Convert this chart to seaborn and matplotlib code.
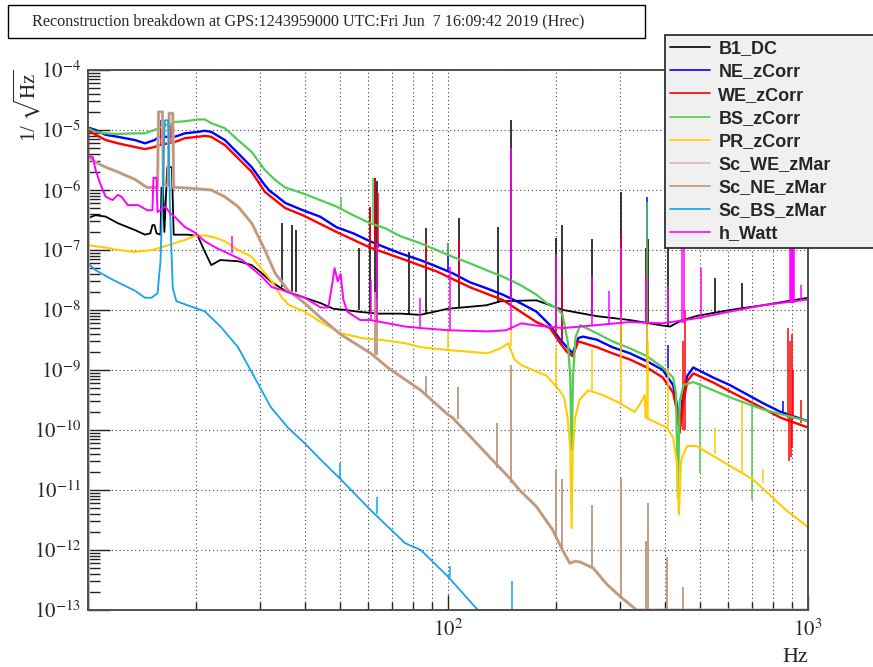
import numpy as np
import matplotlib
matplotlib.use("Agg")
import matplotlib.pyplot as plt
import seaborn as sns
from matplotlib.lines import Line2D
from matplotlib.patches import Rectangle
from matplotlib.ticker import FixedLocator, FixedFormatter, NullFormatter

# ---------------- data ----------------
TITLE = "Reconstruction breakdown at GPS:1243959000 UTC:Fri Jun  7 16:09:42 2019 (Hrec)"
SERIES = ["B1_DC", "NE_zCorr", "WE_zCorr", "BS_zCorr", "PR_zCorr",
          "Sc_WE_zMar", "Sc_NE_zMar", "Sc_BS_zMar", "h_Watt"]
X_TICKS = [100, 1000]
X_TICK_LABELS = [r"$10^{2}$", r"$10^{3}$"]
X_MINOR = [20, 30, 40, 50, 60, 70, 80, 90, 200, 300, 400, 500, 600, 700, 800, 900]
Y_TICKS = [1e-13, 1e-12, 1e-11, 1e-10, 1e-9, 1e-8, 1e-7, 1e-6, 1e-5, 1e-4]
Y_TICK_LABELS = [r"$10^{-13}$", r"$10^{-12}$", r"$10^{-11}$", r"$10^{-10}$", r"$10^{-9}$",
                 r"$10^{-8}$", r"$10^{-7}$", r"$10^{-6}$", r"$10^{-5}$", r"$10^{-4}$"]

# B1_DC (black)
B1_F = [10, 10.5, 11.2, 12.1, 13.5, 14.4, 14.9, 15.1, 15.3, 15.5, 15.9, 16.0, 16.15, 16.3, 16.6, 17.1,
        17.3, 17.8, 19.0, 20.2, 21.0, 22.0, 23.3, 26.1, 28.5, 30.4, 32.4, 35.3, 40.0, 44.3, 48.0, 52.0,
        56.0, 64.0, 73.7, 83.7, 100, 128, 140, 176, 209, 259, 320, 395, 414, 443, 492, 607, 750, 1000]
B1_V = [3.4e-7, 3.8e-7, 3.6e-7, 2.8e-7, 2.15e-7, 1.8e-7, 1.9e-7, 2.6e-7, 2.6e-7, 1.9e-7, 1.8e-7, 1.1e-6,
        1.1e-6, 2e-7, 2.4e-6, 2.4e-6, 1.8e-7, 1.8e-7, 1.8e-7, 1.7e-7, 1e-7, 5.6e-8, 6.8e-8, 6.5e-8,
        5.6e-8, 4.1e-8, 2.9e-8, 2.1e-8, 1.6e-8, 1.3e-8, 1.05e-8, 1e-8, 9.4e-9, 8.7e-9, 8.7e-9, 8.3e-9,
        1.05e-8, 1.2e-8, 1.4e-8, 1.45e-8, 1e-8, 7.9e-9, 6.8e-9, 5.5e-9, 5.3e-9, 6.6e-9, 8e-9, 1e-8,
        1.2e-8, 1.6e-8]
B1_SPK_F = [34.6, 36.8, 37.8, 56.6, 60.8, 62.5, 63.5, 78, 87, 107.5, 138, 150, 200, 207, 251, 302,
            355, 359, 408, 550, 657]
B1_SPK_LO = [2.4e-8, 2e-8, 2e-8, 1e-8, 9e-9, 9e-9, 9e-9, 8.7e-9, 8.5e-9, 1.1e-8, 1.3e-8, 1.4e-8,
             1.1e-8, 1e-8, 8e-9, 7e-9, 6e-9, 6e-9, 5.5e-9, 9e-9, 1.05e-8]
B1_SPK_HI = [2.8e-7, 2.6e-7, 2.15e-7, 1.1e-7, 5.3e-7, 1.6e-6, 1.4e-6, 9.3e-8, 2.3e-7, 3.4e-7, 2.4e-7,
             1.47e-5, 1.6e-7, 2.6e-7, 1.5e-7, 9.3e-7, 1.1e-7, 1.5e-7, 1e-6, 3.4e-8, 2.8e-8]

# NE_zCorr (blue)
NE_F = [10, 10.5, 11.2, 12.1, 13.5, 14.4, 15.3, 15.8, 17.4, 18.6, 20.2, 21.1, 22.0, 24.0, 26.1, 28.5,
        31.0, 32.0, 33.1, 35.3, 39.5, 44.1, 49, 54.5, 60.7, 67, 73.7, 83.7, 93, 103, 115, 128, 142,
        159, 176, 192, 205, 214, 222, 230, 237, 259, 286, 320, 357, 395, 422, 433, 440, 448, 462, 480,
        545, 607, 750, 840, 1000]
NE_V = [1.1e-5, 1e-5, 8.3e-6, 7.7e-6, 6.8e-6, 6e-6, 6.8e-6, 7.7e-6, 7.7e-6, 8.8e-6, 9.3e-6, 9.7e-6,
        9.3e-6, 6.8e-6, 4.1e-6, 2.4e-6, 1.2e-6, 9.6e-7, 8.3e-7, 6.1e-7, 4.6e-7, 3.6e-7, 2.4e-7, 1.9e-7,
        1.4e-7, 1.1e-7, 8.8e-8, 6.8e-8, 5.3e-8, 4.1e-8, 2.9e-8, 2.3e-8, 1.8e-8, 1.3e-8, 9.4e-9, 5.6e-9,
        3.2e-9, 2.4e-9, 1.9e-9, 3.4e-9, 3.6e-9, 3.2e-9, 2.4e-9, 1.9e-9, 1.4e-9, 1e-9, 5.6e-10, 2.5e-10,
        1e-10, 3.2e-10, 8e-10, 1.1e-9, 7.5e-10, 5.6e-10, 2.8e-10, 2e-10, 1.4e-10]
NE_SPK_F = [16.0, 17.0, 62.5, 100, 107.5, 150, 207, 302, 357, 408, 850]
NE_SPK_LO = [7.5e-6, 7.5e-6, 1.5e-7, 4.5e-8, 3.8e-8, 1.6e-8, 3e-9, 2e-9, 1.4e-9, 1e-9, 2e-10]
NE_SPK_HI = [1.47e-5, 1.3e-5, 1.3e-6, 1.3e-7, 1.5e-7, 1.1e-7, 3.6e-8, 1.9e-7, 7.7e-7, 2.6e-9, 3e-10]

# WE_zCorr (red)
WE_F = [10, 10.5, 11.2, 12.1, 13.5, 14.4, 15.3, 15.8, 17.4, 18.6, 20.2, 21.1, 22.0, 24.0, 26.1, 28.5,
        31.0, 33.1, 35.3, 39.5, 49, 60.7, 73.7, 93, 115, 142, 176, 192, 205, 214, 222, 230, 259, 286,
        320, 357, 395, 422, 433, 440, 448, 462, 480, 545, 607, 750, 840, 1000]
WE_V = [1e-5, 8.3e-6, 6.8e-6, 6e-6, 5.2e-6, 4.8e-6, 5.2e-6, 5.6e-6, 6.3e-6, 7.3e-6, 7.7e-6, 8e-6, 7.7e-6,
        5.6e-6, 3.4e-6, 2e-6, 9.3e-7, 6.8e-7, 5e-7, 3.8e-7, 2e-7, 1.1e-7, 7.3e-8, 4.4e-8, 2.4e-8,
        1.47e-8, 6.3e-9, 5e-9, 2.8e-9, 2e-9, 1.7e-9, 3e-9, 2.4e-9, 1.9e-9, 1.5e-9, 1.1e-9, 7.5e-10,
        4.2e-10, 2e-10, 9e-11, 2.4e-10, 6.5e-10, 8.8e-10, 6.2e-10, 4.4e-10, 2.3e-10, 1.6e-10, 1.1e-10]
WE_SPK_F = [16.0, 17.0, 60.8, 62.5, 63.8, 87, 107.5, 200, 207, 302, 357, 450, 455,
            880, 885, 890, 895, 900, 905, 910, 955]
WE_SPK_LO = [5.5e-6, 6e-6, 1.1e-7, 1.1e-7, 1.1e-7, 5e-8, 3e-8, 4e-9, 3e-9, 2e-9, 1.4e-9, 1e-10, 1e-10,
             1.6e-10, 3e-11, 1.5e-10, 3.5e-11, 1.5e-10, 5e-11, 1.5e-10, 1.3e-10]
WE_SPK_HI = [1.2e-5, 1.2e-5, 5.3e-7, 1.5e-6, 9e-7, 1.5e-7, 1.5e-7, 2.2e-8, 3.6e-8, 1.9e-7, 1.2e-7,
             3e-9, 1e-8, 5e-9, 1.6e-10, 3e-9, 1.5e-10, 4e-9, 1.5e-10, 1e-9, 3.2e-10]

# BS_zCorr (green)
BS_F = [10, 10.5, 11.2, 12.1, 13.5, 14.4, 15.3, 16.4, 17.4, 18.6, 20.2, 21.1, 22.0, 24.0, 26.1, 28.5,
        31.0, 33.1, 35.3, 39.5, 44.1, 49, 54.5, 60.7, 67, 73.7, 83.7, 93, 103, 115, 128, 142, 159, 176,
        188, 200, 208, 215, 218.5, 220.5, 222.5, 226, 233, 259, 286, 320, 357, 395, 422, 430, 435, 440,
        451, 480, 545, 607, 750, 1000]
BS_V = [1.07e-5, 9.3e-6, 8.8e-6, 8.6e-6, 8.8e-6, 8.8e-6, 1e-5, 1.2e-5, 1.36e-5, 1.4e-5, 1.5e-5, 1.5e-5,
        1.3e-5, 1.07e-5, 6.8e-6, 4.3e-6, 2.15e-6, 1.47e-6, 1.1e-6, 8.8e-7, 6.8e-7, 5.3e-7, 3.8e-7,
        2.8e-7, 2.3e-7, 1.7e-7, 1.3e-7, 1e-7, 7.7e-8, 6e-8, 4.6e-8, 3.6e-8, 2.6e-8, 1.8e-8, 1.3e-8,
        1.1e-8, 8.3e-9, 3e-9, 8e-10, 4.6e-11, 8e-10, 3.5e-9, 5.6e-9, 4.1e-9, 3e-9, 2.3e-9, 1.7e-9,
        1.1e-9, 7.5e-10, 4e-10, 7.5e-12, 3e-10, 5.6e-10, 6.3e-10, 4.6e-10, 3.5e-10, 2.2e-10, 1.4e-10]
BS_SPK_F = [50.5, 62, 100, 357, 500, 700]
BS_SPK_LO = [5e-7, 2.8e-7, 8e-8, 1.7e-9, 1.9e-11, 6.8e-12]
BS_SPK_HI = [7.7e-7, 1.6e-6, 1.3e-7, 6.3e-7, 6e-10, 2.8e-10]

# PR_zCorr (gold)
PR_F = [10, 11.2, 12.1, 13.5, 15.1, 16.7, 18.6, 19.7, 21.1, 22.6, 24.0, 26.1, 28.5, 30.2, 32.4, 34.6,
        36.2, 40, 44.3, 50.4, 57.6, 64.5, 76, 84, 100, 116, 129, 140, 147, 153, 160, 172, 188, 204,
        210, 215, 218.5, 220.5, 222, 225, 232, 245, 270, 300, 330, 340, 352, 354, 405, 422, 432, 438,
        444, 448, 462, 490, 568, 703, 870, 1000]
PR_V = [1.2e-7, 1.1e-7, 1e-7, 9.3e-8, 1e-7, 1.2e-7, 1.47e-7, 1.7e-7, 1.75e-7, 1.6e-7, 1.4e-7, 1e-7,
        7.7e-8, 5e-8, 3e-8, 1.6e-8, 1.2e-8, 9.4e-9, 6.3e-9, 4.1e-9, 3.4e-9, 3.2e-9, 2.8e-9, 2.4e-9,
        2.15e-9, 2e-9, 1.9e-9, 2.3e-9, 2.8e-9, 1.5e-9, 1.2e-9, 1e-9, 8e-10, 4.6e-10, 3.5e-10, 1.6e-10,
        5e-11, 2.3e-12, 4e-11, 1.5e-10, 3.2e-10, 4.6e-10, 3.8e-10, 2.8e-10, 2e-10, 2.6e-10, 3.8e-10,
        1.6e-10, 1.1e-10, 7.5e-11, 3e-11, 3.9e-12, 3e-11, 3.6e-11, 5.4e-11, 5.4e-11, 3.2e-11, 1.5e-11,
        4.6e-12, 2.4e-12]
PR_SPK_F = [100, 150, 200, 251, 302, 357, 360, 408, 550, 657, 750]
PR_SPK_LO = [2.15e-9, 2.5e-9, 5e-10, 4.6e-10, 2.8e-10, 1.6e-10, 1.6e-10, 1.1e-10, 4e-11, 2e-11, 1.3e-11]
PR_SPK_HI = [5e-9, 5.3e-9, 2.4e-9, 2.2e-9, 9e-9, 5.6e-9, 3e-9, 1.1e-9, 1.1e-10, 2.8e-10, 2.2e-11]

# Sc_WE_zMar / Sc_NE_zMar (tan, overlapping)
SCWE_F = [10, 10.5, 11.2, 12.1, 13.5, 14.6, 15.5, 15.6, 15.7, 16.1, 16.2, 16.7, 16.8, 17.2, 17.3, 17.8,
          19.3, 22, 24, 26.1, 28.5, 31, 33.1, 35.9, 40, 44.3, 50.4, 61, 68, 84, 100, 103, 128, 148,
          158, 176, 195, 208, 218, 225, 233, 253, 276, 300, 334, 400, 1000]
SCWE_V = [3.6e-6, 2.9e-6, 2.4e-6, 2e-6, 1.5e-6, 1.1e-6, 1.1e-6, 1.1e-6, 2e-5, 2e-5, 1.2e-6, 1.2e-6,
          1.9e-5, 1.9e-5, 1.1e-6, 1.1e-6, 1.07e-6, 1e-6, 7.7e-7, 5.3e-7, 2.8e-7, 1e-7, 4.1e-8, 2.15e-8,
          1.3e-8, 7.4e-9, 3.9e-9, 1.9e-9, 1.1e-9, 4.6e-10, 1.8e-10, 1.6e-10, 4e-11, 1.6e-11, 1e-11,
          5.3e-12, 2.2e-12, 1e-12, 6e-13, 6.5e-13, 6.3e-13, 5e-13, 2.7e-13, 1.7e-13, 1e-13, 3e-14, 1e-15]
SCNE_F = SCWE_F
SCNE_V = SCWE_V
SC_SPK_F = [62.5, 63.5, 87, 106.5, 137, 150, 200, 207, 251, 302, 354, 360, 405, 450]
SC_SPK_LO = [1.8e-9, 1.8e-9, 4e-10, 1.5e-10, 2.3e-11, 1.3e-11, 1.5e-12, 1e-12, 5e-13, 1.6e-13,
             1e-13, 1e-13, 1e-13, 1e-13]
SC_SPK_HI = [2e-8, 1.5e-8, 8e-10, 5.2e-10, 1.3e-10, 1.2e-9, 2.2e-11, 1.5e-11, 5.6e-12, 1.6e-11,
             1.4e-12, 6e-12, 7.5e-13, 2.4e-13]

# Sc_BS_zMar (sky blue)
SCBS_F = [10, 10.5, 11.7, 13.5, 14.4, 15.0, 15.6, 15.9, 16.1, 16.35, 16.7, 16.9, 17.2, 17.6, 18.9,
          21.1, 23.4, 26.1, 29.0, 32.2, 35.9, 40.0, 44.3, 50.4, 61, 76, 84, 100, 121, 150, 1000]
SCBS_V = [6e-8, 4.6e-8, 3.2e-8, 2.1e-8, 1.6e-8, 1.6e-8, 1.9e-8, 6.5e-8, 8e-7, 1.45e-5, 1.45e-5,
          4.5e-7, 2.3e-8, 1.4e-8, 1.2e-8, 9.5e-9, 5.2e-9, 2.4e-9, 7.6e-10, 2.4e-10, 1.1e-10, 6e-11,
          3.2e-11, 1.5e-11, 4.6e-12, 1.3e-12, 1e-12, 3.6e-13, 1e-13, 3e-14, 1e-15]
SCBS_SPK_F = [50, 63.5, 101, 151]
SCBS_SPK_LO = [1.5e-11, 4e-12, 3.5e-13, 1e-13]
SCBS_SPK_HI = [2.8e-11, 7.6e-12, 5.5e-13, 3e-13]

# h_Watt (magenta)
HW_F = [10, 10.3, 10.5, 10.8, 11.2, 11.7, 12.1, 12.4, 12.9, 13.8, 14.6, 15.1, 15.2, 15.5, 15.6, 16.4,
        16.9, 17.4, 18.6, 19.7, 21.1, 22.6, 24.0, 26.8, 28.5, 30.4, 32.4, 34.6, 36.6, 40, 44.3, 46.5,
        47.6, 48.4, 49.4, 50.3, 51.2, 52.5, 57, 61, 68, 76, 84, 100, 129, 145, 160, 176, 209, 259,
        320, 395, 492, 607, 750, 1000]
HW_V = [3.6e-6, 3.6e-6, 2.15e-6, 1.3e-6, 7.7e-7, 6.8e-7, 8.3e-7, 7.7e-7, 5.6e-7, 5.6e-7, 4.6e-7,
        4.6e-7, 1.6e-6, 1.6e-6, 4.3e-7, 5.3e-7, 4.1e-7, 3.6e-7, 2.4e-7, 2e-7, 1.4e-7, 1.1e-7, 9.3e-8,
        6.8e-8, 5e-8, 3.6e-8, 2.4e-8, 2.15e-8, 1.9e-8, 1.6e-8, 1.1e-8, 1.1e-8, 2.5e-8, 5e-8, 3e-8,
        4e-8, 1.5e-8, 9.4e-9, 6.8e-9, 6.8e-9, 6e-9, 5.3e-9, 5e-9, 4.6e-9, 4.4e-9, 4.6e-9, 6e-9, 5.5e-9,
        5e-9, 5.6e-9, 6.3e-9, 6e-9, 7.3e-9, 9.4e-9, 1.2e-8, 1.5e-8]
HW_SPK_F = [25.1, 61, 63.5, 83.6, 101, 150, 200, 251, 280, 302, 355, 408, 447, 452, 503,
            890, 895, 900, 905, 910, 915, 955]
HW_SPK_LO = [9e-8, 6.8e-9, 6.8e-9, 5e-9, 4.6e-9, 4.6e-9, 5e-9, 5.6e-9, 5.6e-9, 6e-9, 6e-9, 6e-9,
             6e-9, 6e-9, 7e-9, 1.3e-8, 1.3e-8, 1.3e-8, 1.3e-8, 1.3e-8, 1.3e-8, 1.4e-8]
HW_SPK_HI = [1.7e-7, 3.2e-8, 1.3e-7, 1.6e-8, 5.3e-8, 5e-6, 8.3e-8, 3.6e-8, 2.1e-8, 1.1e-7, 3.9e-8,
             2.5e-8, 1e-6, 1e-6, 5e-8, 1e-6, 1e-6, 1e-6, 1e-6, 1e-6, 1e-6, 2.6e-8]

COLORS = ["#000000", "#0000ff", "#ff0000", "#52cc52", "#ffcc00",
          "#d2bcab", "#bf9478", "#16a2ee", "#ff00ff"]

# ---------------- figure ----------------
W, H = 873, 667
YMIN, YMAX = 1e-13, 1e-4
XMIN, XMAX = 10, 1000

sns.set_theme(style="white")
plt.rcParams["font.family"] = ["Liberation Serif", "DejaVu Serif"]
plt.rcParams["mathtext.fontset"] = "stix"

fig = plt.figure(figsize=(W / 100, H / 100), dpi=100)
fig.patch.set_facecolor("white")
ax = fig.add_axes([88 / W, 57 / H, 720 / W, 540 / H])
ax.set_facecolor("white")

data = [
    (B1_F, B1_V, B1_SPK_F, B1_SPK_LO, B1_SPK_HI, 1.3),
    (NE_F, NE_V, NE_SPK_F, NE_SPK_LO, NE_SPK_HI, 1.7),
    (WE_F, WE_V, WE_SPK_F, WE_SPK_LO, WE_SPK_HI, 1.7),
    (BS_F, BS_V, BS_SPK_F, BS_SPK_LO, BS_SPK_HI, 1.6),
    (PR_F, PR_V, PR_SPK_F, PR_SPK_LO, PR_SPK_HI, 1.5),
    (SCWE_F, SCWE_V, SC_SPK_F, SC_SPK_LO, SC_SPK_HI, 2.3),
    (SCNE_F, SCNE_V, SC_SPK_F, SC_SPK_LO, SC_SPK_HI, 1.4),
    (SCBS_F, SCBS_V, SCBS_SPK_F, SCBS_SPK_LO, SCBS_SPK_HI, 1.3),
    (HW_F, HW_V, HW_SPK_F, HW_SPK_LO, HW_SPK_HI, 1.4),
]

for (f, v, sf, slo, shi, lw), color in zip(data, COLORS):
    vv = np.clip(np.asarray(v, float), YMIN, YMAX)
    sns.lineplot(x=np.asarray(f, float), y=vv, ax=ax, color=color, lw=lw,
                 estimator=None, sort=False, legend=False)
    ax.vlines(sf, np.clip(slo, YMIN, YMAX), np.clip(shi, YMIN, YMAX), color=color, lw=1.1)
    ax.vlines([f[0]], YMIN, vv[0], color=color, lw=lw)

ax.set_xscale("log")
ax.set_yscale("log")
ax.set_xlim(XMIN, XMAX)
ax.set_ylim(YMIN, YMAX)
ax.set_xlabel("")
ax.set_ylabel("")

ax.xaxis.set_major_locator(FixedLocator(X_TICKS))
ax.xaxis.set_major_formatter(FixedFormatter(X_TICK_LABELS))
ax.xaxis.set_minor_locator(FixedLocator(X_MINOR))
ax.xaxis.set_minor_formatter(NullFormatter())
ax.yaxis.set_major_locator(FixedLocator(Y_TICKS))
ax.yaxis.set_major_formatter(FixedFormatter(Y_TICK_LABELS))
y_minor = [m * d for d in Y_TICKS[:-1] for m in range(2, 10)]
ax.yaxis.set_minor_locator(FixedLocator(y_minor))
ax.yaxis.set_minor_formatter(NullFormatter())

grid_kw = dict(color="#404040", lw=0.8, ls=(0, (1, 2.5)))
ax.grid(True, which="major", axis="y", **grid_kw)
ax.grid(True, which="both", axis="x", **grid_kw)
ax.set_axisbelow(True)

ax.tick_params(axis="y", which="major", direction="in", length=16, width=1.0, color="#222222",
               left=True, right=False, pad=5, labelsize=15)
ax.tick_params(axis="y", which="minor", direction="in", length=8.5, width=1.0, color="#222222",
               left=True, right=False)
ax.tick_params(axis="x", which="major", direction="in", length=11, width=1.0, color="#222222",
               bottom=True, top=False, pad=7, labelsize=15)
ax.tick_params(axis="x", which="minor", direction="in", length=6, width=1.0, color="#222222",
               bottom=True, top=False)
for s in ax.spines.values():
    s.set_color("#505050")
    s.set_linewidth(1.4)

# axis titles
fig.text(808 / W, 1 - 657 / H, "Hz", ha="right", va="center", size=16)
fig.text(27 / W, 1 - 70 / H, r"1/ $\sqrt{\mathrm{Hz}}$", rotation=90, ha="center", va="top", size=15)

# title box
fig.add_artist(Rectangle((8 / W, 1 - 38 / H), (645 - 8) / W, 33 / H, transform=fig.transFigure,
                         facecolor="white", edgecolor="black", lw=1.0))
fig.text(32 / W, 1 - 21.5 / H, TITLE, ha="left", va="center", size=11.6)

# legend
handles = [Line2D([], [], color=c, lw=1.2) for c in COLORS]
leg = fig.legend(handles, SERIES, loc="upper left",
                 bbox_to_anchor=(665 / W, 1 - 35 / H - 0.4, 220 / W, 0.4), mode="expand",
                 borderaxespad=0, borderpad=0.3, labelspacing=0.34, handlelength=2.2,
                 handletextpad=0.45, fancybox=False, framealpha=1, facecolor="#f0f0f0",
                 edgecolor="#303030",
                 prop={"family": "Liberation Sans", "weight": "bold", "size": 13})
leg.get_frame().set_linewidth(1.3)

fig.savefig("out.png", dpi=100)
